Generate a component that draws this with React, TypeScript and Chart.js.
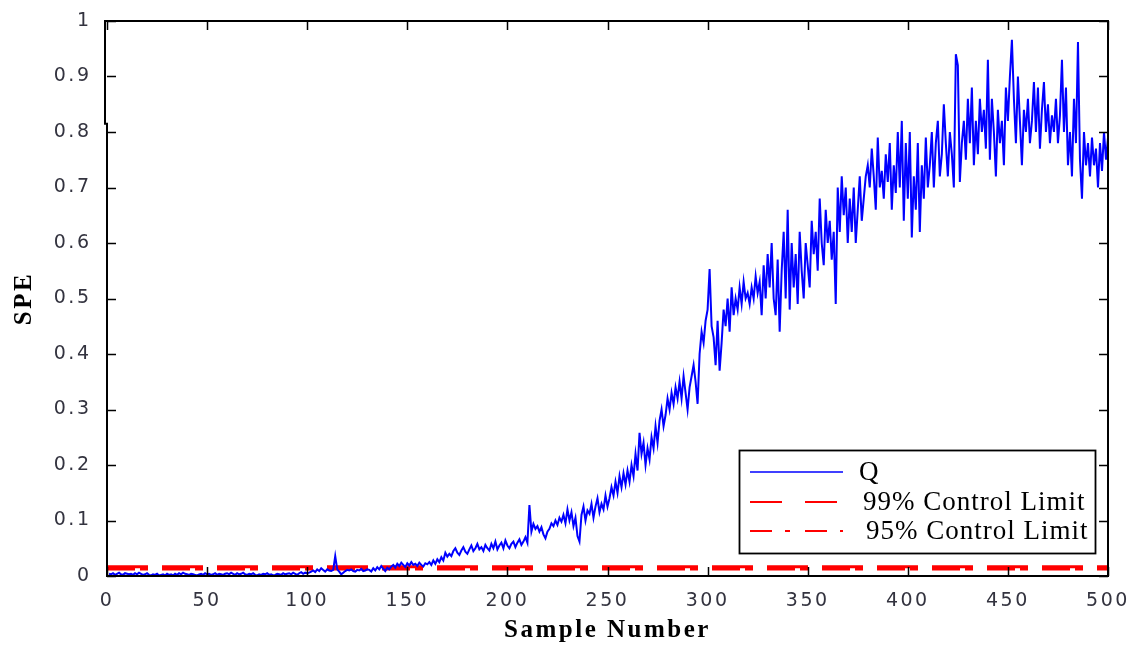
import { useEffect, useRef } from 'react';
import { Chart, registerables } from 'chart.js';

Chart.register(...registerables);

const SAMPLE_START = 1;

const Q_VALUES = [
  0.004, 0.003, 0.005, 0.002, 0.004, 0.006, 0.003, 0.002, 0.005, 0.004,
  0.003, 0.004, 0.002, 0.005, 0.003, 0.006, 0.004, 0.002, 0.003, 0.005,
  0.002, 0.001, 0.003, 0.002, 0.004, 0.001, 0.002, 0.003, 0.001, 0.004,
  0.002, 0.003, 0.001, 0.004, 0.002, 0.005, 0.003, 0.006, 0.004, 0.003,
  0.002, 0.004, 0.003, 0.002, 0.001, 0.003, 0.004, 0.002, 0.005, 0.003,
  0.004, 0.002, 0.003, 0.005, 0.002, 0.004, 0.003, 0.002, 0.004, 0.005,
  0.003, 0.006, 0.004, 0.002, 0.005, 0.003, 0.004, 0.006, 0.003, 0.002,
  0.004, 0.003, 0.005, 0.002, 0.001, 0.003, 0.002, 0.004, 0.003, 0.005,
  0.002, 0.003, 0.001, 0.002, 0.004, 0.003, 0.002, 0.005, 0.003, 0.004,
  0.005, 0.003, 0.006, 0.004, 0.002, 0.005, 0.007, 0.004, 0.006, 0.005,
  0.006, 0.008, 0.01, 0.007, 0.012, 0.009, 0.014, 0.011, 0.008, 0.012,
  0.01, 0.009, 0.011, 0.036, 0.012, 0.008, 0.003, 0.006, 0.009, 0.011,
  0.01, 0.012, 0.009, 0.008, 0.011, 0.01, 0.013, 0.009, 0.01, 0.012,
  0.011, 0.008, 0.014, 0.01, 0.016, 0.012, 0.018, 0.013, 0.009, 0.015,
  0.012, 0.017, 0.02, 0.015, 0.022, 0.018, 0.024, 0.02, 0.016, 0.023,
  0.019, 0.025, 0.02, 0.022, 0.018, 0.024, 0.02, 0.017, 0.023, 0.021,
  0.025, 0.02, 0.028, 0.022, 0.03, 0.025, 0.034, 0.028, 0.042, 0.035,
  0.04, 0.036, 0.045, 0.05, 0.042, 0.038, 0.046, 0.052, 0.044, 0.04,
  0.048, 0.055, 0.045, 0.05, 0.058, 0.048, 0.052, 0.045, 0.056, 0.05,
  0.046, 0.058, 0.05, 0.062, 0.048, 0.055, 0.06, 0.05, 0.064, 0.055,
  0.05, 0.058, 0.062, 0.052, 0.06, 0.066, 0.056, 0.062, 0.07, 0.06,
  0.128, 0.08, 0.094, 0.085, 0.09, 0.08, 0.088, 0.075, 0.068, 0.08,
  0.085, 0.095, 0.09, 0.1, 0.092, 0.105, 0.098, 0.11, 0.095, 0.12,
  0.1, 0.115, 0.09, 0.105, 0.072, 0.062, 0.11, 0.125, 0.1, 0.118,
  0.112, 0.13, 0.105, 0.125, 0.14, 0.115, 0.13, 0.12, 0.145, 0.125,
  0.14, 0.16, 0.145, 0.17, 0.15, 0.18, 0.16, 0.185, 0.165, 0.19,
  0.17, 0.2, 0.18, 0.22, 0.19, 0.258, 0.22, 0.24, 0.2, 0.23,
  0.21, 0.25, 0.23, 0.27, 0.24, 0.28, 0.3, 0.27, 0.29, 0.32,
  0.3, 0.33, 0.31, 0.34, 0.32, 0.35, 0.32, 0.36, 0.33, 0.3,
  0.34, 0.36, 0.38, 0.35, 0.31, 0.4, 0.44, 0.42, 0.46, 0.48,
  0.553, 0.45, 0.43, 0.38, 0.46, 0.37, 0.42, 0.48, 0.45, 0.5,
  0.44, 0.52, 0.47, 0.5, 0.48, 0.52, 0.49, 0.53, 0.5, 0.51,
  0.49, 0.52, 0.5, 0.54, 0.51, 0.53, 0.47, 0.56, 0.5, 0.58,
  0.52, 0.6, 0.5, 0.47, 0.57, 0.44, 0.55, 0.62, 0.5, 0.66,
  0.48, 0.6, 0.52, 0.58, 0.49, 0.62, 0.55, 0.5, 0.6, 0.56,
  0.52, 0.64, 0.58, 0.62, 0.55, 0.68, 0.6, 0.56, 0.66, 0.6,
  0.64, 0.57, 0.62, 0.49, 0.7, 0.62, 0.72, 0.65, 0.7, 0.6,
  0.68, 0.62, 0.7, 0.6, 0.66, 0.72, 0.64, 0.68, 0.72, 0.74,
  0.7, 0.77, 0.72, 0.66, 0.79, 0.7, 0.73, 0.68, 0.76, 0.71,
  0.78, 0.66, 0.74, 0.69, 0.8, 0.7, 0.82, 0.64, 0.78, 0.68,
  0.8, 0.61, 0.72, 0.66, 0.78, 0.62, 0.74, 0.68, 0.79, 0.7,
  0.74, 0.8, 0.7, 0.78, 0.82, 0.72, 0.76, 0.85, 0.78, 0.72,
  0.8, 0.76, 0.7, 0.94, 0.92, 0.71, 0.78, 0.82, 0.75, 0.86,
  0.78, 0.88, 0.74, 0.82, 0.76, 0.86, 0.8, 0.84, 0.77, 0.93,
  0.75, 0.86, 0.8, 0.72, 0.84, 0.78, 0.82, 0.74, 0.88, 0.82,
  0.9, 0.966, 0.86, 0.78, 0.9, 0.82, 0.74, 0.84, 0.8, 0.86,
  0.78, 0.82, 0.89, 0.8, 0.88, 0.77, 0.84, 0.89, 0.8, 0.85,
  0.78, 0.83, 0.8, 0.86, 0.78, 0.83, 0.93, 0.8, 0.88, 0.74,
  0.8, 0.72, 0.86, 0.78, 0.962, 0.75, 0.68, 0.8, 0.74, 0.78,
  0.72, 0.79, 0.74, 0.77, 0.7, 0.78, 0.73, 0.8, 0.75, 0.79,
];

const LIMIT_99 = 0.0165;
const LIMIT_95 = 0.0125;
const LIMIT_X = [0, 500];

const X_TICKS = [0, 50, 100, 150, 200, 250, 300, 350, 400, 450, 500];
const Y_TICKS = [0, 0.1, 0.2, 0.3, 0.4, 0.5, 0.6, 0.7, 0.8, 0.9, 1];
const Y_TICK_LABELS = ['0', '0.1', '0.2', '0.3', '0.4', '0.5', '0.6', '0.7', '0.8', '0.9', '1'];

const LEGEND_LABELS = ['Q', '99% Control Limit', '95% Control Limit'];
const X_TITLE = 'Sample Number';
const Y_TITLE = 'SPE';

const TICK_FONT = { family: '"DejaVu Sans", sans-serif', size: 19, lineHeight: 1.2 };
const TITLE_FONT = { family: '"Liberation Serif", serif', size: 25, weight: 'bold' as const, lineHeight: 1 };

const spacingPlugin = {
  id: 'spacing',
  beforeLayout(chart: any) {
    chart.ctx.letterSpacing = '2.5px';
  },
  beforeDraw(chart: any) {
    chart.ctx.letterSpacing = '2.5px';
  },
};

const framePlugin = {
  id: 'frame',
  afterDraw(chart: any) {
    const ctx = chart.ctx as CanvasRenderingContext2D;
    const { left, right, top, bottom } = chart.chartArea;
    const xs = chart.scales.x;
    const ys = chart.scales.y;
    const yBreak = ys.getPixelForValue(0.815);
    ctx.save();
    (ctx as any).letterSpacing = '0px';
    ctx.strokeStyle = '#000';
    ctx.lineWidth = 2;
    ctx.beginPath();
    ctx.moveTo(left - 3, top);
    ctx.lineTo(right + 1, top);
    ctx.moveTo(right, top);
    ctx.lineTo(right, bottom + 1);
    ctx.moveTo(left, bottom);
    ctx.lineTo(right + 1, bottom);
    ctx.moveTo(left - 2, top);
    ctx.lineTo(left - 2, yBreak);
    ctx.lineTo(left, yBreak);
    ctx.lineTo(left, bottom + 1);
    ctx.stroke();

    ctx.lineWidth = 1.5;
    const tl = 9;
    ctx.beginPath();
    X_TICKS.forEach((v) => {
      const px = Math.round(xs.getPixelForValue(v)) + 0.5;
      ctx.moveTo(px, bottom);
      ctx.lineTo(px, bottom - tl);
      ctx.moveTo(px, top);
      ctx.lineTo(px, top + tl);
    });
    Y_TICKS.forEach((v) => {
      const py = Math.round(ys.getPixelForValue(v)) + 0.5;
      ctx.moveTo(left, py);
      ctx.lineTo(left + tl, py);
      ctx.moveTo(right, py);
      ctx.lineTo(right - tl, py);
    });
    ctx.stroke();

    // legend
    const bx = right - 369;
    const by = bottom - 126;
    const bw = 356;
    const bh = 103;
    ctx.fillStyle = '#fff';
    ctx.fillRect(bx, by, bw, bh);
    ctx.strokeStyle = '#000';
    ctx.lineWidth = 1.8;
    ctx.strokeRect(bx + 0.5, by + 0.5, bw, bh);

    const lineY = [by + 22, by + 52, by + 81];
    const textX = [bx + 120, bx + 124, bx + 127];
    const colors = ['#0000ff', '#ff0000', '#ff0000'];
    const dashes = [[], [32, 23], [22, 13, 5, 15]];
    const widths = [1.6, 2, 2];
    for (let i = 0; i < 3; i++) {
      ctx.beginPath();
      ctx.setLineDash(dashes[i]);
      ctx.strokeStyle = colors[i];
      ctx.lineWidth = widths[i];
      ctx.moveTo(bx + 11, lineY[i]);
      ctx.lineTo(bx + 104, lineY[i]);
      ctx.stroke();
    }
    ctx.setLineDash([]);
    (ctx as any).letterSpacing = '1px';
    ctx.font = '27px "Liberation Serif", serif';
    ctx.fillStyle = '#000';
    ctx.textBaseline = 'middle';
    ctx.textAlign = 'left';
    for (let i = 0; i < 3; i++) {
      ctx.fillText(LEGEND_LABELS[i], textX[i], lineY[i] + 1);
    }
    ctx.restore();
  },
};

export default function App() {
  const ref = useRef<HTMLCanvasElement>(null);
  useEffect(() => {
    const canvas = ref.current;
    if (!canvas) return;
    const chart = new Chart(canvas, {
      type: 'line',
      data: {
        datasets: [
          {
            label: LEGEND_LABELS[0],
            data: Q_VALUES.map((v, i) => ({ x: i + SAMPLE_START, y: v })),
            borderColor: '#0000ff',
            borderWidth: 2,
            pointRadius: 0,
            tension: 0,
            fill: false,
          },
          {
            label: LEGEND_LABELS[1],
            data: LIMIT_X.map((x) => ({ x, y: LIMIT_99 })),
            borderColor: '#ff0000',
            borderWidth: 3,
            borderDash: [41, 14],
            pointRadius: 0,
            fill: false,
          },
          {
            label: LEGEND_LABELS[2],
            data: LIMIT_X.map((x) => ({ x, y: LIMIT_95 })),
            borderColor: '#ff0000',
            borderWidth: 3,
            borderDash: [28, 5, 8, 14],
            pointRadius: 0,
            fill: false,
          },
        ],
      },
      options: {
        responsive: false,
        animation: false,
        devicePixelRatio: 1,
        layout: { padding: { left: 0, top: 21, right: 32, bottom: 0 } },
        plugins: {
          legend: { display: false },
          tooltip: { enabled: false },
        },
        scales: {
          x: {
            type: 'linear',
            min: 0,
            max: 500,
            grid: { display: false },
            border: { display: false },
            afterBuildTicks: (scale: any) => {
              scale.ticks = X_TICKS.map((v) => ({ value: v }));
            },
            afterFit: (scale: any) => {
              scale.height = 70;
            },
            ticks: {
              autoSkip: false,
              maxRotation: 0,
              padding: 6,
              color: '#33333f',
              font: TICK_FONT,
              callback: (v: any) => String(v),
            },
            title: {
              display: true,
              text: X_TITLE,
              color: '#000',
              font: TITLE_FONT,
              padding: { top: 0, bottom: 3 },
            },
          },
          y: {
            type: 'linear',
            min: 0,
            max: 1,
            grid: { display: false },
            border: { display: false },
            afterBuildTicks: (scale: any) => {
              scale.ticks = Y_TICKS.map((v) => ({ value: v }));
            },
            afterFit: (scale: any) => {
              scale.width = 107;
            },
            ticks: {
              autoSkip: false,
              padding: 7.5,
              color: '#33333f',
              font: TICK_FONT,
              callback: (_v: any, i: number) => Y_TICK_LABELS[i],
            },
            title: {
              display: true,
              text: Y_TITLE,
              color: '#000',
              font: TITLE_FONT,
              padding: { top: 12, bottom: 0 },
            },
          },
        },
      },
      plugins: [spacingPlugin, framePlugin],
    });
    return () => chart.destroy();
  }, []);
  return (
    <div style={{ position: 'fixed', left: 0, top: 0, width: 1140, height: 646, background: '#fff' }}>
      <canvas ref={ref} width={1140} height={646} style={{ display: 'block', width: 1140, height: 646 }} />
    </div>
  );
}
